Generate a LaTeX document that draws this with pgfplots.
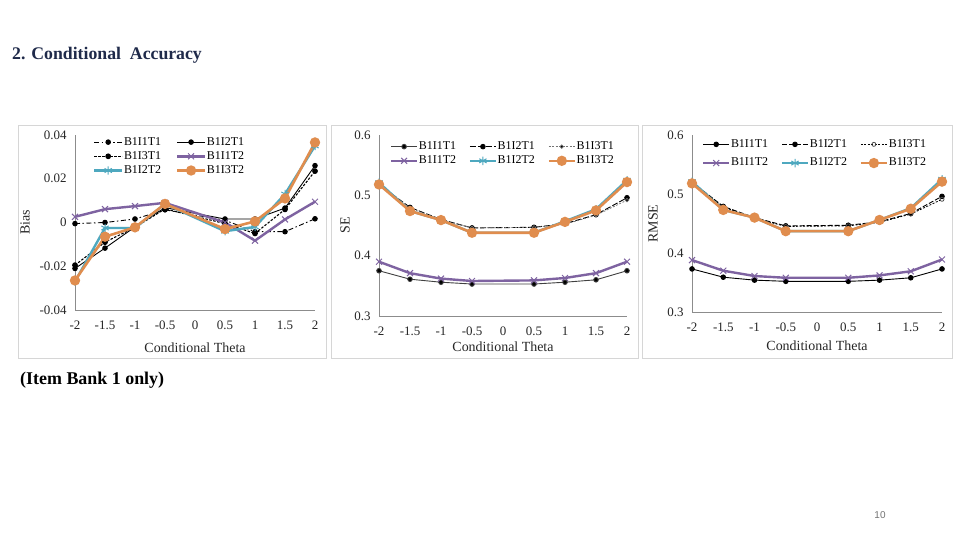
\documentclass[border=0pt]{standalone}
\usepackage{fontspec}
\setmainfont{Liberation Serif}
\newfontfamily\sansf{Liberation Sans}
\usepackage{pgfplots}
\pgfplotsset{compat=1.18}
\usepackage{pgfplotstable}

\definecolor{navy}{HTML}{1F2A4A}
\definecolor{cpurple}{HTML}{7E63A1}
\definecolor{cteal}{HTML}{4EA8BF}
\definecolor{corange}{HTML}{E08D4E}
\definecolor{axgray}{HTML}{8C8C8C}
\definecolor{boxgray}{HTML}{D6D6D6}

% bias by conditional theta (no point at 0)
\pgfplotstableread{
x     a       b       c       d       e       f
-2   -0.0005 -0.0210 -0.0195  0.0026 -0.0270 -0.0265
-1.5  0.0000 -0.0117 -0.0090  0.0061 -0.0025 -0.0065
-1    0.0016 -0.0020 -0.0022  0.0075 -0.0025 -0.0022
-0.5  0.0058  0.0068  0.0062  0.0090  0.0085  0.0085
0.5   0.0010  0.0016 -0.0005  0.0000 -0.0040 -0.0030
1    -0.0042  0.0016 -0.0050 -0.0083 -0.0020  0.0005
1.5  -0.0042  0.0066  0.0060  0.0014  0.0130  0.0110
2     0.0017  0.0260  0.0235  0.0095  0.0350  0.0366
}\bias

\pgfplotstableread{
x     a      b      c      d      e      f
-2    0.375  0.518  0.518  0.390  0.521  0.518
-1.5  0.361  0.480  0.479  0.371  0.474  0.474
-1    0.356  0.460  0.459  0.362  0.459  0.459
-0.5  0.353  0.446  0.446  0.358  0.438  0.438
0.5   0.353  0.447  0.447  0.359  0.438  0.438
1     0.356  0.453  0.452  0.363  0.457  0.456
1.5   0.360  0.468  0.467  0.371  0.477  0.475
2     0.375  0.496  0.492  0.390  0.525  0.522
}\se

\pgfplotstableread{
x     a      b      c      d      e      f
-2    0.373  0.520  0.519  0.388  0.521  0.518
-1.5  0.359  0.479  0.478  0.370  0.473  0.473
-1    0.354  0.460  0.459  0.361  0.460  0.460
-0.5  0.352  0.446  0.445  0.358  0.437  0.437
0.5   0.352  0.447  0.446  0.358  0.437  0.437
1     0.354  0.453  0.452  0.362  0.456  0.456
1.5   0.358  0.467  0.466  0.369  0.476  0.475
2     0.373  0.496  0.491  0.389  0.525  0.521
}\rmse

\pgfplotsset{
  panel/.style={
    scale only axis, clip=false,
    axis lines*=left,
    axis line style={axgray, line width=0.8bp},
    major tick length=0pt,
    xmin=-2, xmax=2,
    xtick={-2,-1.5,-1,-0.5,0,0.5,1,1.5,2},
    /pgf/number format/assume math mode=true,
    tick label style={font=\fontsize{13}{13}\selectfont, text=black!85},
    xticklabel style={yshift=-7bp},
    yticklabel style={xshift=-5bp},
    label style={font=\fontsize{14}{14}\selectfont, text=black!85},
    legend cell align=left,
    legend style={draw=none, fill=none, font=\fontsize{12}{12}\selectfont,
      inner sep=0pt, outer sep=0pt,
      nodes={inner sep=0.6bp, text height=9.5bp, text depth=3.5bp},
      /tikz/every even column/.append style={column sep=12bp}},
    legend image code/.code={\draw[mark repeat=2,mark phase=2]
      plot coordinates {(0bp,0bp) (13bp,0bp) (26bp,0bp)};},
  },
  kdot/.style={black, line width=0.9bp, mark=*, mark size=2.3bp,
    mark options={solid, fill=black}},
  lpur/.style={cpurple, line width=2.4bp, mark=x, mark size=4.2bp,
    mark options={solid, line width=1bp}},
  ltea/.style={cteal, line width=2.4bp, mark=asterisk, mark size=4.2bp,
    mark options={solid, line width=1bp}},
  lora/.style={corange, line width=2.6bp, mark=*, mark size=3.8bp,
    mark options={solid, fill=corange}},
}

\begin{document}
\begin{tikzpicture}[x=1bp, y=-1bp]
\useasboundingbox[fill=white] (0,0) rectangle (960,540);

\node[anchor=base west, inner sep=0pt, text=navy,
  font=\bfseries\fontsize{17.8}{18}\selectfont] at (12,59.5) {2. Conditional~ Accuracy};
\node[anchor=base west, inner sep=0pt,
  font=\bfseries\fontsize{18}{18}\selectfont] at (20,384) {(Item Bank 1 only)};
\node[text=black!55, font=\sansf\fontsize{10}{10}\selectfont] at (880,515) {10};

\draw[boxgray, line width=0.8bp] (18,125) rectangle (326,358);
\draw[boxgray, line width=0.8bp] (331,125) rectangle (638,358);
\draw[boxgray, line width=0.8bp] (642,125) rectangle (952,358);

% Bias
\begin{axis}[panel, at={(75bp,-310bp)}, anchor=south west,
  width=240bp, height=175bp,
  ymin=-0.04, ymax=0.04, ytick={-0.04,-0.02,0,0.02,0.04},
  scaled y ticks=false,
  yticklabel style={/pgf/number format/fixed, /pgf/number format/precision=2},
  xlabel={Conditional Theta}, ylabel={Bias},
  xlabel style={at={(axis description cs:0.5,-0.217)}, anchor=center},
  ylabel style={at={(axis description cs:-0.208,0.5)}, anchor=center},
  legend columns=2,
  legend style={at={(axis description cs:0.075,1.0)}, anchor=north west,
    /tikz/every even column/.append style={column sep=14bp}},
  legend image code/.code={\draw[mark repeat=2,mark phase=2]
    plot coordinates {(0bp,0bp) (14bp,0bp) (28bp,0bp)};},
]
\addplot[kdot, dash pattern=on 5bp off 2.5bp on 1.5bp off 2.5bp] table[y=a] {\bias};
\addlegendentry{B1I1T1}
\addplot[kdot] table[y=b] {\bias};
\addlegendentry{B1I2T1}
\addplot[kdot, line width=1.1bp, dash pattern=on 2.5bp off 1.5bp] table[y=c] {\bias};
\addlegendentry{B1I3T1}
\addplot[lpur] table[y=d] {\bias};
\addlegendentry{B1I1T2}
\addplot[ltea] table[y=e] {\bias};
\addlegendentry{B1I2T2}
\addplot[lora] table[y=f] {\bias};
\addlegendentry{B1I3T2}
\end{axis}

% SE
\begin{axis}[panel, at={(379bp,-316bp)}, anchor=south west,
  width=248bp, height=181bp,
  ymin=0.3, ymax=0.6, ytick={0.3,0.4,0.5,0.6},
  xlabel={Conditional Theta}, ylabel={SE},
  xlabel style={at={(axis description cs:0.5,-0.171)}, anchor=center},
  ylabel style={at={(axis description cs:-0.137,0.5)}, anchor=center},
  legend columns=3,
  legend style={at={(axis description cs:0.044,0.975)}, anchor=north west},
]
\addplot[kdot, black!75] table[y=a] {\se};
\addlegendentry{B1I1T1}
\addplot[kdot, dash pattern=on 6bp off 2bp] table[y=b] {\se};
\addlegendentry{B1I2T1}
\addplot[kdot, black!55, line width=0.7bp, mark size=1.8bp, dash pattern=on 2bp off 1.5bp] table[y=c] {\se};
\addlegendentry{B1I3T1}
\addplot[lpur] table[y=d] {\se};
\addlegendentry{B1I1T2}
\addplot[ltea] table[y=e] {\se};
\addlegendentry{B1I2T2}
\addplot[lora] table[y=f] {\se};
\addlegendentry{B1I3T2}
\end{axis}

% RMSE
\begin{axis}[panel, at={(692bp,-312bp)}, anchor=south west,
  width=250bp, height=177bp,
  ymin=0.3, ymax=0.6, ytick={0.3,0.4,0.5,0.6},
  xlabel={Conditional Theta}, ylabel={RMSE},
  xlabel style={at={(axis description cs:0.5,-0.192)}, anchor=center},
  ylabel style={at={(axis description cs:-0.156,0.5)}, anchor=center},
  legend columns=3,
  legend style={at={(axis description cs:0.04,1.0)}, anchor=north west,
    nodes={text height=11.5bp, text depth=6bp}},
]
\addplot[kdot] table[y=a] {\rmse};
\addlegendentry{B1I1T1}
\addplot[kdot, dash pattern=on 5bp off 2bp] table[y=b] {\rmse};
\addlegendentry{B1I2T1}
\addplot[black, line width=0.8bp, dash pattern=on 2bp off 1.5bp, mark=o, mark size=2bp,
  mark options={solid, black!70}] table[y=c] {\rmse};
\addlegendentry{B1I3T1}
\addplot[lpur] table[y=d] {\rmse};
\addlegendentry{B1I1T2}
\addplot[ltea] table[y=e] {\rmse};
\addlegendentry{B1I2T2}
\addplot[lora] table[y=f] {\rmse};
\addlegendentry{B1I3T2}
\end{axis}
\end{tikzpicture}
\end{document}
